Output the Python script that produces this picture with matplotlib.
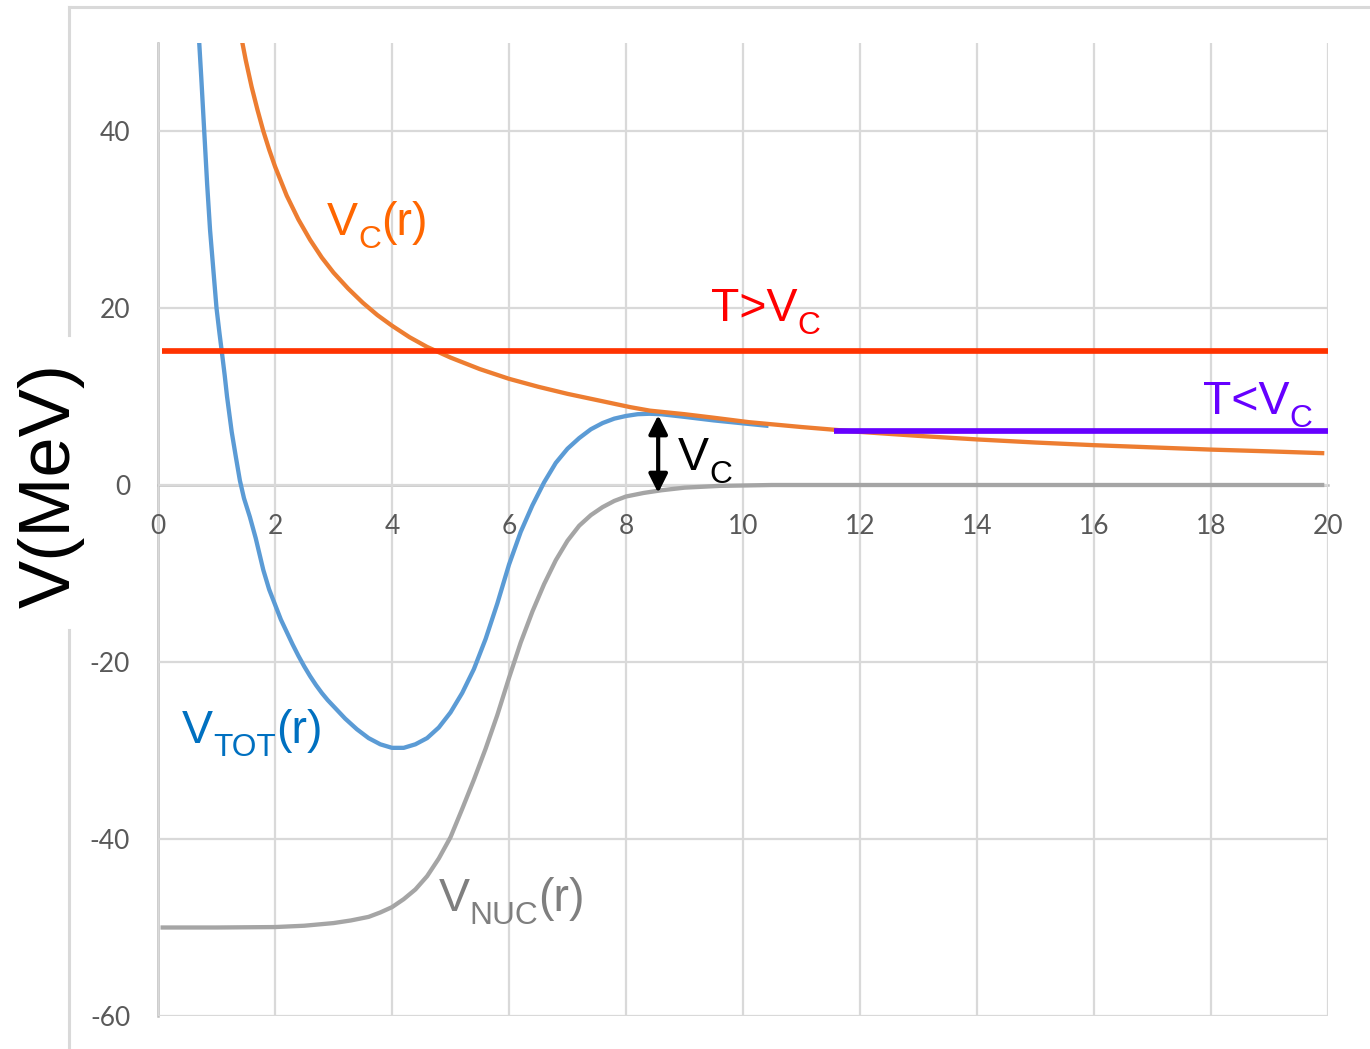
import matplotlib
matplotlib.use("Agg")
import matplotlib.pyplot as plt
from matplotlib.lines import Line2D
from matplotlib.transforms import offset_copy

plt.rcParams["axes.unicode_minus"] = False

# Coulomb potential V_C(r)
r_coul = [1.40, 1.50, 1.60, 1.70, 1.80, 1.90, 2.0, 2.2, 2.4, 2.6, 2.8, 3.0, 3.25,
          3.5, 3.75, 4.0, 4.3, 4.6, 5.0, 5.5, 6.0, 6.5, 7.0, 7.5, 8.07, 8.41, 9.0,
          9.5, 10.1, 11.0, 12.0, 13.0, 14.0, 15.0, 16.0, 17.0, 18.0, 19.0, 19.9]
v_coul = [51.4, 48.0, 45.0, 42.4, 40.0, 37.9, 36.0, 32.7, 30.0, 27.7, 25.7, 24.0, 22.2,
          20.6, 19.2, 18.0, 16.7, 15.6, 14.4, 13.1, 12.0, 11.1, 10.3, 9.6, 8.8, 8.4, 8.0,
          7.6, 7.1, 6.55, 6.0, 5.55, 5.15, 4.8, 4.5, 4.25, 4.0, 3.8, 3.6]

# Total potential V_TOT(r)
r_tot = [0.68, 0.70, 0.74, 0.79, 0.84, 0.89, 0.95, 1.00, 1.05, 1.09, 1.14, 1.18, 1.22,
         1.26, 1.33, 1.40, 1.47, 1.57, 1.67, 1.80, 1.9, 2.0, 2.1, 2.2, 2.3, 2.4, 2.5,
         2.6, 2.7, 2.8, 2.9, 3.0, 3.2, 3.4, 3.6, 3.8, 4.0, 4.2, 4.4, 4.6, 4.8, 5.0,
         5.2, 5.4, 5.6, 5.8, 6.0, 6.2, 6.4, 6.6, 6.8, 7.0, 7.2, 7.4, 7.6, 7.8, 8.0,
         8.2, 8.4, 8.6, 8.8, 9.0, 9.5, 10.1, 10.4]
v_tot = [53.0, 50.5, 46.0, 40.0, 34.0, 28.8, 24.0, 20.0, 17.2, 15.1, 12.4, 10.0, 8.0,
         6.0, 3.2, 0.5, -1.5, -3.6, -6.0, -9.6, -11.8, -13.5, -15.2, -16.6, -18.0, -19.3, -20.5,
         -21.6, -22.6, -23.5, -24.3, -25.0, -26.4, -27.6, -28.6, -29.3, -29.7, -29.7, -29.3, -28.6, -27.4, -25.7,
         -23.5, -20.8, -17.4, -13.4, -9.0, -5.3, -2.3, 0.3, 2.5, 4.1, 5.3, 6.3, 7.0, 7.5, 7.8,
         8.0, 8.05, 8.0, 7.85, 7.7, 7.3, 6.9, 6.7]

# Nuclear potential V_NUC(r)
r_nuc = [0.08, 1.0, 2.0, 2.5, 3.0, 3.3, 3.6, 3.8, 4.0, 4.2, 4.4, 4.6, 4.8, 5.0,
         5.2, 5.4, 5.6, 5.8, 6.0, 6.2, 6.4, 6.6, 6.8, 7.0, 7.2, 7.4, 7.6, 7.8,
         8.0, 8.3, 8.6, 9.0, 9.6, 10.5, 12.0, 14.0, 16.0, 18.0, 19.9]
v_nuc = [-50.0, -50.0, -49.95, -49.8, -49.5, -49.2, -48.8, -48.3, -47.7, -46.8, -45.7, -44.2, -42.2, -39.8,
         -36.6, -33.3, -29.8, -26.0, -21.8, -17.8, -14.3, -11.2, -8.5, -6.3, -4.6, -3.4, -2.5, -1.8,
         -1.3, -0.9, -0.6, -0.3, -0.1, 0.0, 0.0, 0.0, 0.0, 0.0, 0.0]

# Kinetic energy levels
t_high = 15.1
t_high_range = [0.07, 20.0]
t_low = 6.1
t_low_range = [11.55, 20.0]

# Barrier height arrow
barrier_r = 8.55
barrier_top = 7.9
barrier_bottom = -0.9

x_ticks = list(range(0, 21, 2))
y_ticks = [-60, -40, -20, 0, 20, 40]

W, H = 1370, 1049
DPI = 100
fig = plt.figure(figsize=(W / DPI, H / DPI), dpi=DPI)
ax = fig.add_axes([158 / W, 33 / H, 1170 / W, 973.5 / H])

ax.set_xlim(0, 20)
ax.set_ylim(-60, 50)
ax.set_xticks(x_ticks)
ax.set_yticks(y_ticks)

grid_c = "#d9d9d9"
axis_c = "#bfbfbf"
ax.grid(True, color=grid_c, linewidth=1.6, zorder=0)
ax.set_axisbelow(True)
for gl in ax.get_xgridlines() + ax.get_ygridlines():
    gl.set_clip_on(False)

for s in ["top", "right"]:
    ax.spines[s].set_visible(False)
for s in ["bottom", "left"]:
    ax.spines[s].set_position(("data", 0))
    ax.spines[s].set_color(axis_c)
    ax.spines[s].set_linewidth(1.8)
    ax.spines[s].set_zorder(0.5)

ax.tick_params(axis="both", length=0, labelsize=19, labelcolor="#595959")
ax.tick_params(axis="x", pad=21)
ax.tick_params(axis="y", pad=20)
for lab in ax.get_xticklabels() + ax.get_yticklabels():
    lab.set_family("Lato")

lw = 3.1
ax.plot(r_nuc, v_nuc, color="#a5a5a5", lw=lw, zorder=2)
ax.plot(r_tot, v_tot, color="#5b9bd5", lw=lw, zorder=3)
ax.plot(r_coul, v_coul, color="#ed7d31", lw=lw, zorder=4)
ax.plot(t_high_range, [t_high, t_high], color="#ff3300", lw=4.1, zorder=5,
        solid_capstyle="butt", clip_on=False)
ax.plot(t_low_range, [t_low, t_low], color="#6600ff", lw=4.1, zorder=6,
        solid_capstyle="butt", clip_on=False)

ax.annotate("", xy=(barrier_r, barrier_top), xytext=(barrier_r, barrier_bottom),
            arrowprops=dict(arrowstyle="<|-|>", color="black", lw=3,
                            mutation_scale=28, shrinkA=0, shrinkB=0),
            zorder=7)

FAM = "Liberation Sans"
renderer = fig.canvas.get_renderer()


def sub_label(x, y, parts, color, size=33.5, sub_scale=0.68, sub_drop=0.28):
    """Write text with subscripts, piece by piece, starting at (x, y) baseline."""
    dx = 0.0
    for txt, is_sub in parts:
        fs = size * sub_scale if is_sub else size
        dy = -size * sub_drop if is_sub else 0.0
        tr = offset_copy(ax.transData, fig=fig, x=dx, y=dy, units="points")
        t = ax.text(x, y, txt, fontsize=fs, color=color, family=FAM,
                    ha="left", va="baseline", transform=tr, zorder=8)
        dx += t.get_window_extent(renderer).width * 72.0 / DPI


sub_label(2.89, 28.2, [("V", False), ("C", True), ("(r)", False)], "#ff6600")
sub_label(9.45, 18.5, [("T>V", False), ("C", True)], "#ff0000")
sub_label(17.86, 8.0, [("T<V", False), ("C", True)], "#6600ff")
sub_label(8.89, 1.7, [("V", False), ("C", True)], "black")
sub_label(0.41, -29.2, [("V", False), ("TOT", True), ("(r)", False)], "#0070c0")
sub_label(4.80, -48.1, [("V", False), ("NUC", True), ("(r)", False)], "#7f7f7f")

# Outer chart frame, with a gap where the axis title sits
frame_kw = dict(color=grid_c, lw=2.2, transform=fig.transFigure)
fx = 68.5 / W
fy = 1 - 6.5 / H
fig.add_artist(Line2D([fx, 1.0], [fy, fy], **frame_kw))
fig.add_artist(Line2D([fx, fx], [fy, 1 - 335 / H], **frame_kw))
fig.add_artist(Line2D([fx, fx], [1 - 630 / H, 0.0], **frame_kw))

fig.text(51 / W, 1 - 485 / H, "V(MeV)", rotation=90, ha="center", va="center",
         fontsize=52, family=FAM, color="black")

fig.savefig("out.png", dpi=DPI, facecolor="white")
